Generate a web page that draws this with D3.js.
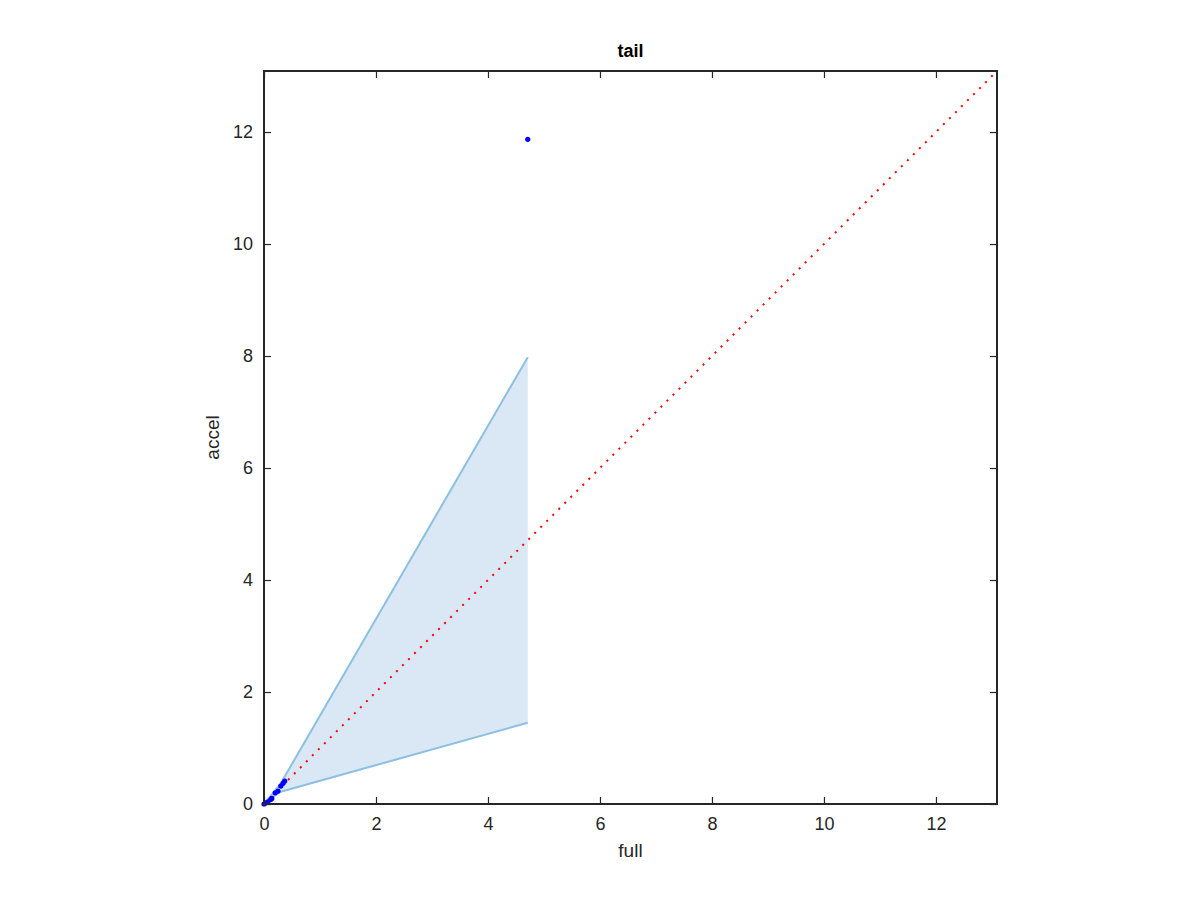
<!DOCTYPE html>
<head>
    <meta charset="utf-8" />
    <style>
        body { margin: 0; background: #fff; }
        text { font-family: "Liberation Sans", Arial, sans-serif; }
    </style>
</head>
<body>
    <svg width="1200" height="900"></svg>
</body>
<script src="https://d3js.org/d3.v7.min.js"></script>
<script>
    // data
    var bandX = [0, 0.05, 0.15, 0.3, 4.71];
    var bandUpper = [0, 0.06, 0.18, 0.37, 7.98];
    var bandLower = [0, 0.04, 0.12, 0.22, 1.45];
    var pointsX = [0, 0.03, 0.07, 0.12, 0.14, 0.2, 0.25, 0.3, 0.34, 0.37, 4.71];
    var pointsY = [0, 0.02, 0.04, 0.08, 0.1, 0.2, 0.23, 0.32, 0.37, 0.41, 11.87];
    var tickValues = [0, 2, 4, 6, 8, 10, 12];
    var axisMax = 13.09;

    var svg = d3.select("svg");
    var margin = { top: 71, right: 203, bottom: 96, left: 264 };
    var width = 1200 - margin.left - margin.right;
    var height = 900 - margin.top - margin.bottom;

    var g = svg.append("g")
        .attr("transform", "translate(" + margin.left + "," + margin.top + ")");

    var x = d3.scaleLinear().domain([0, axisMax]).range([0, width]);
    var y = d3.scaleLinear().domain([0, axisMax]).range([height, 0]);

    // shaded band
    var band = bandX.map(function (v, i) { return { x: v, lo: bandLower[i], hi: bandUpper[i] }; });
    g.append("path")
        .datum(band)
        .attr("fill", "#d9e8f4")
        .attr("d", d3.area().x(d => x(d.x)).y0(d => y(d.lo)).y1(d => y(d.hi)));

    var edgeLine = function (key) {
        return d3.line().x(d => x(d.x)).y(d => y(d[key]));
    };
    g.append("path").datum(band).attr("fill", "none").attr("stroke", "#8cc0e3")
        .attr("stroke-width", 2).attr("d", edgeLine("hi"));
    g.append("path").datum(band).attr("fill", "none").attr("stroke", "#8cc0e3")
        .attr("stroke-width", 2).attr("d", edgeLine("lo"));

    // diagonal reference
    g.append("line")
        .attr("x1", x(0)).attr("y1", y(0))
        .attr("x2", x(axisMax)).attr("y2", y(axisMax))
        .attr("stroke", "#ff0000")
        .attr("stroke-width", 2)
        .attr("stroke-dasharray", "2,6.5");

    // points
    g.selectAll(".pt")
        .data(pointsX.map((v, i) => [v, pointsY[i]]))
        .enter().append("circle")
        .attr("class", "pt")
        .attr("cx", d => x(d[0]))
        .attr("cy", d => y(d[1]))
        .attr("r", 2.6)
        .attr("fill", "#0000ff");

    // axes, ticks inward on all four sides
    var axStyle = function (sel) {
        sel.select(".domain").remove();
        sel.selectAll(".tick line").attr("stroke", "#262626").attr("stroke-width", 1.2);
        sel.selectAll(".tick text").attr("fill", "#262626").style("font-size", "18px")
            .style("font-family", "'Liberation Sans', Arial, sans-serif");
    };
    g.append("g").attr("transform", "translate(0," + height + ")")
        .call(d3.axisBottom(x).tickValues(tickValues).tickSize(-7).tickPadding(13).tickFormat(d3.format("d")))
        .call(axStyle);
    g.append("g")
        .call(d3.axisLeft(y).tickValues(tickValues).tickSize(-7).tickPadding(11).tickFormat(d3.format("d")))
        .call(axStyle);
    g.append("g")
        .call(d3.axisTop(x).tickValues(tickValues).tickSize(-7).tickFormat(""))
        .call(axStyle);
    g.append("g").attr("transform", "translate(" + width + ",0)")
        .call(d3.axisRight(y).tickValues(tickValues).tickSize(-7).tickFormat(""))
        .call(axStyle);

    g.append("rect")
        .attr("width", width).attr("height", height)
        .attr("fill", "none").attr("stroke", "#262626").attr("stroke-width", 2);

    // labels
    g.append("text")
        .attr("x", width / 2).attr("y", -14)
        .attr("text-anchor", "middle")
        .style("font-size", "18px").style("font-weight", "bold")
        .text("tail");
    g.append("text")
        .attr("x", width / 2).attr("y", height + 53)
        .attr("text-anchor", "middle")
        .attr("fill", "#262626")
        .style("font-size", "19px")
        .text("full");
    g.append("text")
        .attr("transform", "rotate(-90)")
        .attr("x", -height / 2).attr("y", -45)
        .attr("text-anchor", "middle")
        .attr("fill", "#262626")
        .style("font-size", "19px")
        .text("accel");
</script>
